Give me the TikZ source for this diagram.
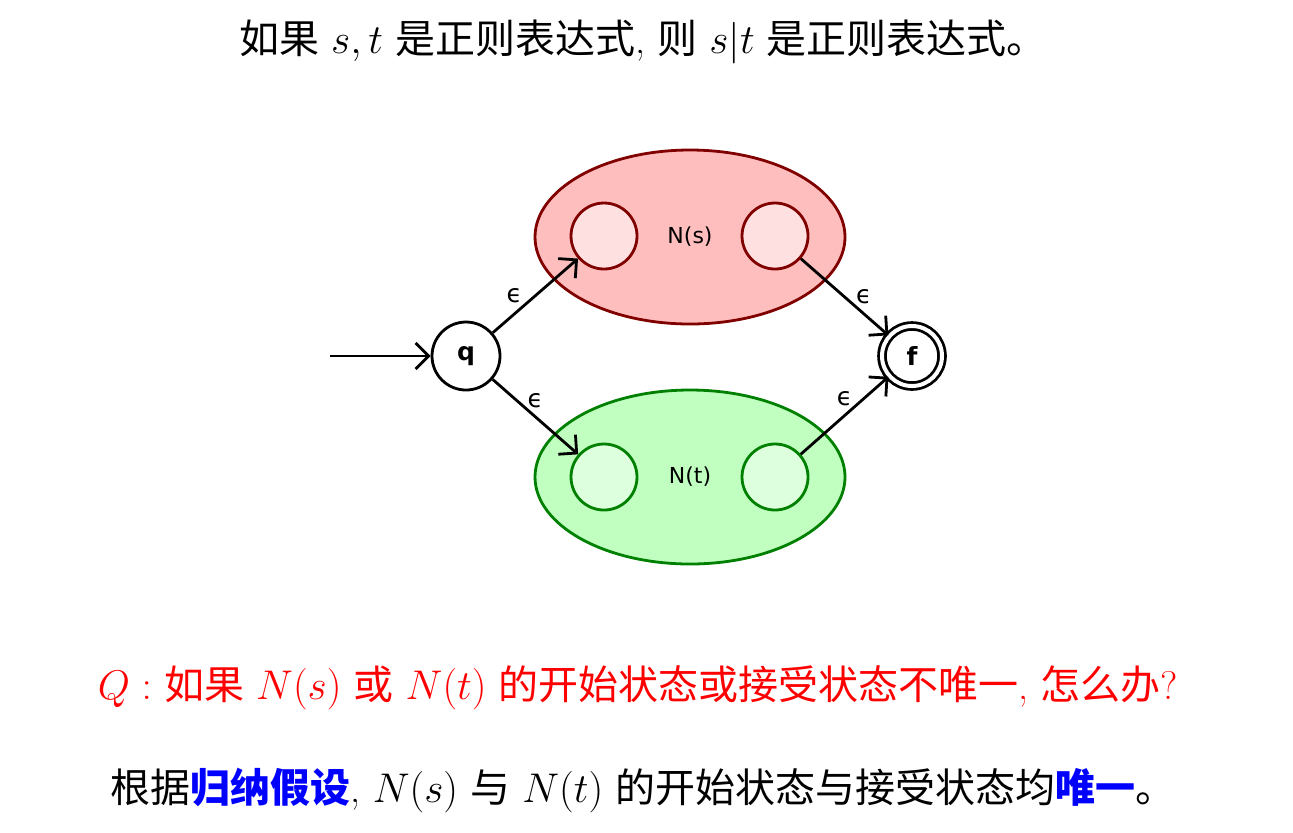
\documentclass[tikz,border=0pt]{standalone}
\usepackage{fontspec}
\newfontfamily\cjk{Noto Sans CJK SC}
\newfontfamily\djsans{DejaVu Sans}
\usetikzlibrary{arrows.meta,shapes.geometric,calc}
\newcommand{\zh}[1]{{\cjk #1}}
\definecolor{darkred}{RGB}{128,0,0}
\definecolor{darkgreen}{RGB}{0,128,0}
\definecolor{pinkfill}{RGB}{255,190,190}
\definecolor{pinkin}{RGB}{255,224,224}
\definecolor{greenfill}{RGB}{192,255,192}
\definecolor{greenin}{RGB}{222,255,222}
\tikzset{
    vertex/.style = {circle,
                    fill=white,
                    draw=black,
                    text=black,
                    line width=1.4pt,
                    minimum size=34pt,
                    inner sep=0pt,
                    font=\djsans\bfseries\fontsize{12.5}{14}\selectfont},
    final/.style  = {vertex,
                    double,
                    double distance=2pt,
                    minimum size=30pt},
    blob/.style   = {ellipse,
                    line width=1.4pt,
                    minimum width=155pt,
                    minimum height=87pt,
                    font=\djsans\fontsize{11}{13}\selectfont},
    inner/.style  = {circle,
                    line width=1.4pt,
                    minimum size=33pt,
                    inner sep=0pt},
    eps/.style    = {font=\djsans\fontsize{12.5}{14}\selectfont,
                    inner sep=3pt},
    line/.style   = {font=\fontsize{20}{24}\selectfont},
    >={Straight Barb[length=6.5pt,width=13pt]},
    x=0.5pt,y=-0.5pt}

\begin{document}
\begin{tikzpicture}
    \useasboundingbox (0,0) rectangle (1293,832);
    % top line
    \node[line] (top) at (643,42) {\zh{如果} $s, t$ \zh{是正则表达式}, \zh{则} $s|t$ \zh{是正则表达式。}};
    % the two sub-automata
    \node[blob,fill=pinkfill,draw=darkred]     (Ns) at (690,237) {N(s)};
    \node[blob,fill=greenfill,draw=darkgreen]  (Nt) at (690,477) {N(t)};
    \node[inner,fill=pinkin,draw=darkred]      (s1) at (604,236) {};
    \node[inner,fill=pinkin,draw=darkred]      (s2) at (775,236) {};
    \node[inner,fill=greenin,draw=darkgreen]   (t1) at (604,477) {};
    \node[inner,fill=greenin,draw=darkgreen]   (t2) at (775,477) {};
    % start and final state
    \node[vertex]       (q) at (466,356)  {q};
    \node[final]        (f) at (912,356)  {f};
    \coordinate         (in) at (330,356);
    \path [line width=1.4pt,->]  (in) edge []  (q)
                (q)  edge [] node [eps,left=3pt]  {ϵ} (s1)
                (q)  edge [] node [eps,above=1pt] {ϵ} (t1)
                (s2) edge [] node [eps,right=2pt] {ϵ} (f)
                (t2) edge [] node [eps,above=1pt] {ϵ} (f);
    % questions
    \node[line,text=red] (ques) at (638,688) {$Q:$ \zh{如果} $N(s)$ \zh{或} $N(t)$ \zh{的开始状态或接受状态不唯一}, \zh{怎么办}?};
    \node[line]          (ans)  at (643,790) {\zh{根据}\textcolor{blue}{\zh{\bfseries 归纳假设}}, $N(s)$ \zh{与} $N(t)$ \zh{的开始状态与接受状态均}\textcolor{blue}{\zh{\bfseries 唯一}}\zh{。}};
\end{tikzpicture}
\end{document}
